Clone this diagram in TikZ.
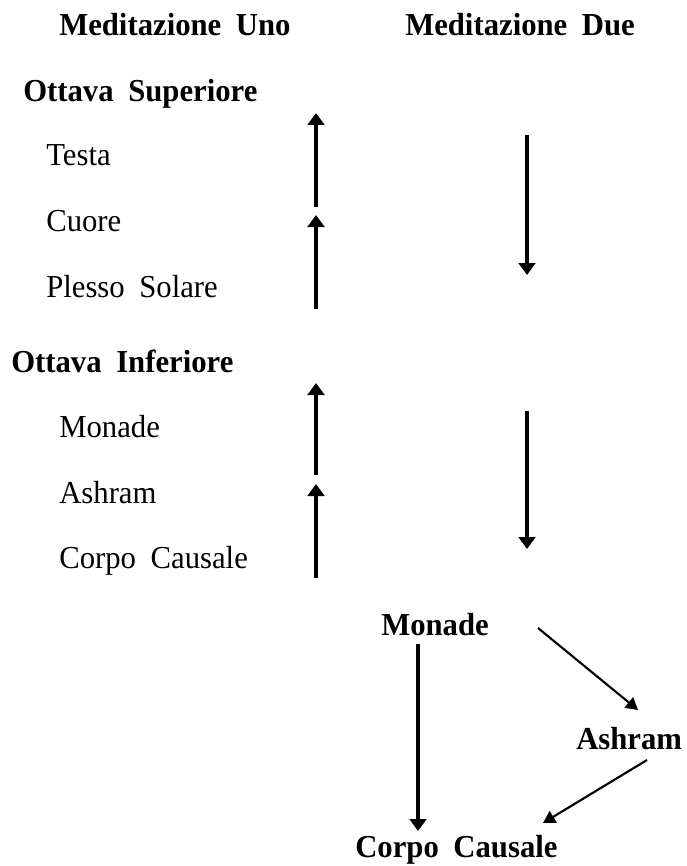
\documentclass[tikz,border=0pt]{standalone}
\usepackage{fontspec}
\setmainfont{Liberation Serif}[FakeStretch=0.96,WordSpace=1.9]
\usetikzlibrary{arrows.meta}
\begin{document}
\begin{tikzpicture}[x=0.75pt,y=-0.75pt,
  lbl/.style={anchor=base west,inner sep=0pt,font=\fontsize{24}{28}\selectfont},
  blbl/.style={lbl,font=\fontsize{24}{28}\selectfont\bfseries},
  varrow/.style={line width=2.4pt,-{Triangle[width=12.5pt,length=9pt]}},
  darrow/.style={line width=1.6pt,-{Triangle[width=10pt,length=9pt]}}]
\useasboundingbox (0,0) rectangle (686,866);
% headers
\node[blbl] (h1) at (59,36) {Meditazione Uno};
\node[blbl] (h2) at (405,36) {Meditazione Due};
% upper octave
\node[blbl] (os) at (23,102) {Ottava Superiore};
\node[lbl] (testa) at (46,166) {Testa};
\node[lbl] (cuore) at (46,231) {Cuore};
\node[lbl] (plesso) at (46,297) {Plesso Solare};
% lower octave
\node[blbl] (oi) at (11,372) {Ottava Inferiore};
\node[lbl] (mon1) at (59,437) {Monade};
\node[lbl] (ash1) at (59,503) {Ashram};
\node[lbl] (cc1) at (59,568) {Corpo Causale};
% bottom
\node[blbl] (mon2) at (381,635) {Monade};
\node[blbl] (ash2) at (576,749) {Ashram};
\node[blbl] (cc2) at (355,857) {Corpo Causale};
% arrow coordinates
\coordinate (a1s) at (316,207); \coordinate (a1e) at (316,113);
\coordinate (a2s) at (316,309); \coordinate (a2e) at (316,215);
\coordinate (a3s) at (316,475); \coordinate (a3e) at (316,383);
\coordinate (a4s) at (316,578); \coordinate (a4e) at (316,484);
\coordinate (d1s) at (527,135); \coordinate (d1e) at (527,275);
\coordinate (d2s) at (527,411); \coordinate (d2e) at (527,549);
\coordinate (m1s) at (418,644); \coordinate (m1e) at (418,831);
\coordinate (g1s) at (538,628); \coordinate (g1e) at (638,710);
\coordinate (g2s) at (647,760); \coordinate (g2e) at (543,823);
\draw[varrow] (a1s) -- (a1e);
\draw[varrow] (a2s) -- (a2e);
\draw[varrow] (a3s) -- (a3e);
\draw[varrow] (a4s) -- (a4e);
\draw[varrow] (d1s) -- (d1e);
\draw[varrow] (d2s) -- (d2e);
\draw[varrow] (m1s) -- (m1e);
\draw[darrow] (g1s) -- (g1e);
\draw[darrow] (g2s) -- (g2e);
\end{tikzpicture}
\end{document}
